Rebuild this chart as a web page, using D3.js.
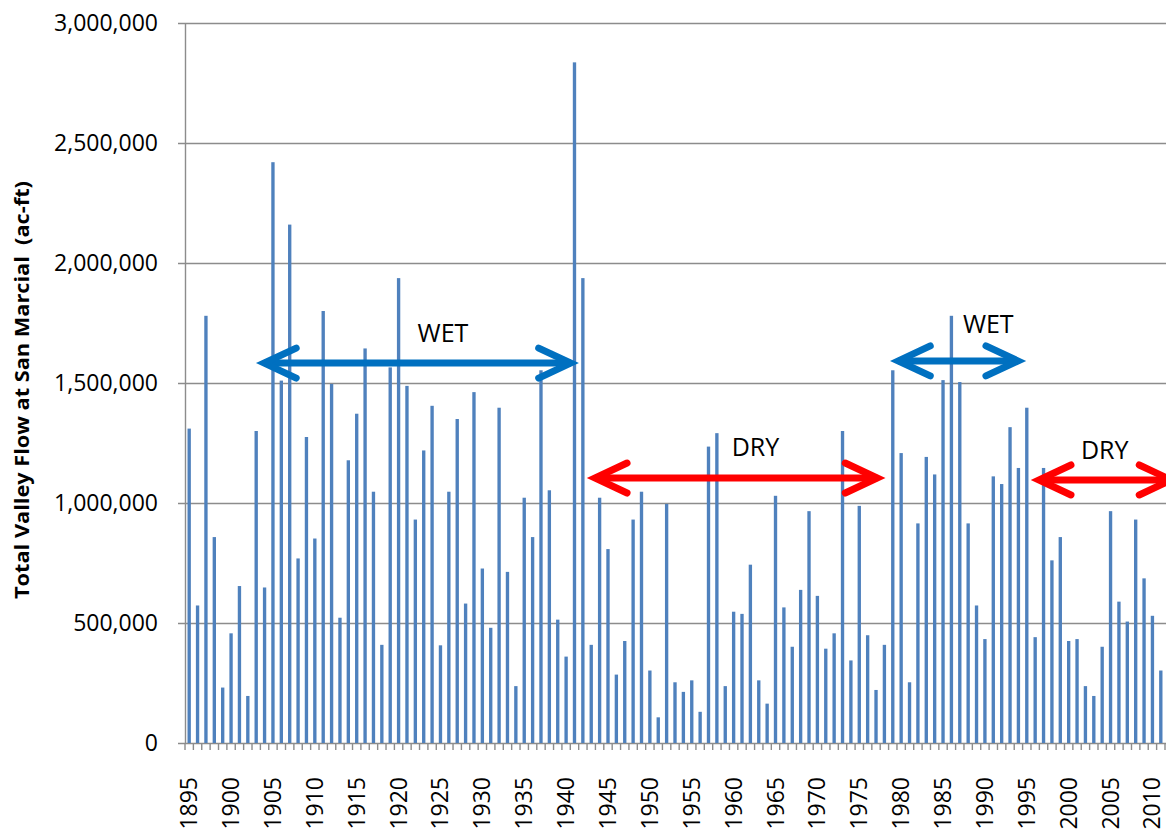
<!DOCTYPE html>
<html>
<head>
<meta charset="utf-8">
<script src="https://cdn.jsdelivr.net/npm/d3@7"></script>
<style>
  body { margin: 0; background: #fff; }
  svg { display: block; }
</style>
</head>
<body>
<div id="chart"></div>
<script>
// size of the picture
let w = 1166;
let h = 829;
let margin = {top: 23, right: 1, bottom: 86, left: 185};

// years and total valley flow (ac-ft)
let years = d3.range(1895, 2012);
let flows = [
  1310000, 573000, 1780000, 858000, 231000, 457000, 654000, 196000, 1300000, 648000,
  2420000, 1510000, 2160000, 769000, 1275000, 852000, 1800000, 1496000, 522000, 1178000,
  1372000, 1644000, 1047000, 409000, 1565000, 1937000, 1488000, 931000, 1219000, 1405000,
  407000, 1047000, 1350000, 581000, 1462000, 727000, 480000, 1397000, 713000, 237000,
  1022000, 858000, 1553000, 1053000, 514000, 360000, 2836000, 1937000, 409000, 1022000,
  808000, 285000, 425000, 931000, 1047000, 302000, 107000, 996000, 253000, 213000,
  261000, 130000, 1235000, 1291000, 237000, 547000, 538000, 743000, 261000, 164000,
  1030000, 565000, 401000, 638000, 966000, 613000, 393000, 457000, 1300000, 344000,
  988000, 449000, 221000, 409000, 1553000, 1208000, 253000, 915000, 1192000, 1119000,
  1512000, 1780000, 1504000, 915000, 573000, 433000, 1111000, 1079000, 1316000, 1146000,
  1397000, 441000, 1146000, 761000, 858000, 425000, 433000, 237000, 196000, 401000,
  966000, 589000, 506000, 931000, 686000, 530000, 302000
];
let yTicks = [0, 500000, 1000000, 1500000, 2000000, 2500000, 3000000];
let xLabelYears = d3.range(1895, 2011, 5);

// wet / dry period arrows (start year, end year, flow level)
let periodNames = ["WET", "DRY", "WET", "DRY"];
let periodStart = [1903.0, 1942.5, 1978.7, 1995.5];
let periodEnd = [1941.5, 1978.1, 1994.9, 2013.2];
let periodLevel = [1583000, 1104000, 1592000, 1096000];
let periodLabelYear = [1925.3, 1962.6, 1990.4, 2004.3];
let periodLabelLevel = [1671000, 1196000, 1708000, 1183000];

let barColor = "#4f81bd";
let gridColor = "#8c8c8c";
let periodColors = {WET: "#0070c0", DRY: "#ff0000"};

let svg = d3.select("#chart")
            .append("svg")
            .attr("width", w)
            .attr("height", h);

let x = d3.scaleBand()
          .domain(years)
          .range([margin.left, w - margin.right])
          .paddingInner(0.6)
          .paddingOuter(0.3);

// continuous version of the year axis, for the annotations
let xYear = d3.scaleLinear()
              .domain([years[0], years[years.length - 1]])
              .range([x(years[0]) + x.bandwidth() / 2, x(years[years.length - 1]) + x.bandwidth() / 2]);

let y = d3.scaleLinear()
          .domain([0, 3000000])
          .range([h - margin.bottom, margin.top]);

let fmt = d3.format(",");

// gridlines
svg.append("g")
   .selectAll("line")
   .data(yTicks)
   .enter()
   .append("line")
   .attr("x1", margin.left - 7)
   .attr("x2", w)
   .attr("y1", d => Math.round(y(d)) + 0.5)
   .attr("y2", d => Math.round(y(d)) + 0.5)
   .style("stroke", gridColor)
   .style("stroke-width", 1.4);

// bars
svg.append("g")
   .selectAll("rect")
   .data(years)
   .enter()
   .append("rect")
   .attr("x", d => x(d))
   .attr("width", x.bandwidth())
   .attr("y", (d, i) => y(flows[i]))
   .attr("height", (d, i) => y(0) - y(flows[i]))
   .style("fill", barColor);

// y axis line
svg.append("line")
   .attr("x1", margin.left + 0.5)
   .attr("x2", margin.left + 0.5)
   .attr("y1", y(3000000))
   .attr("y2", y(0))
   .style("stroke", gridColor)
   .style("stroke-width", 1.4);

// x axis tick marks between the years
let xTickPos = years.map(d => x(d) - x.step() * x.paddingInner() / 2);
xTickPos.push(x(years[years.length - 1]) + x.bandwidth() + x.step() * x.paddingInner() / 2);
svg.append("g")
   .selectAll("line")
   .data(xTickPos)
   .enter()
   .append("line")
   .attr("x1", d => d)
   .attr("x2", d => d)
   .attr("y1", y(0))
   .attr("y2", y(0) + 7)
   .style("stroke", gridColor)
   .style("stroke-width", 1.4);

// y tick labels
svg.append("g")
   .selectAll("text")
   .data(yTicks)
   .enter()
   .append("text")
   .attr("x", margin.left - 27)
   .attr("y", d => y(d))
   .attr("dy", "0.36em")
   .attr("text-anchor", "end")
   .style("font", "23px 'Open Sans', sans-serif")
   .style("fill", "#000")
   .text(d => fmt(d));

// x tick labels, rotated
svg.append("g")
   .selectAll("text")
   .data(xLabelYears)
   .enter()
   .append("text")
   .attr("transform", d => "translate(" + (x(d) + x.bandwidth() / 2 + 8) + "," + (y(0) + 34) + ") rotate(-90)")
   .attr("text-anchor", "end")
   .style("font", "23px 'Open Sans', sans-serif")
   .style("fill", "#000")
   .text(d => d);

// y axis title
svg.append("text")
   .attr("transform", "translate(29," + ((y(0) + y(3000000)) / 2 + 7) + ") rotate(-90)")
   .attr("text-anchor", "middle")
   .attr("textLength", 418)
   .attr("lengthAdjust", "spacingAndGlyphs")
   .style("font", "bold 20px 'Open Sans', sans-serif")
   .style("white-space", "pre")
   .text("Total Valley Flow at San Marcial  (ac-ft)");

// period arrows
let headLen = 32;
let headHalf = 15;
let tipInset = 8;   // miter of the chevron sticks out past its vertex
periodNames.forEach(function(name, i) {
    let x1 = xYear(periodStart[i]) + tipInset;
    let x2 = xYear(periodEnd[i]) - tipInset;
    let yy = y(periodLevel[i]);
    let g = svg.append("g")
               .style("stroke", periodColors[name])
               .style("stroke-width", 7)
               .style("fill", "none")
               .style("stroke-linecap", "round")
               .style("stroke-linejoin", "miter");
    g.append("line")
     .attr("x1", x1).attr("x2", x2)
     .attr("y1", yy).attr("y2", yy)
     .style("stroke-linecap", "butt");
    g.append("path")
     .attr("d", "M" + (x1 + headLen) + "," + (yy - headHalf) + "L" + x1 + "," + yy + "L" + (x1 + headLen) + "," + (yy + headHalf));
    g.append("path")
     .attr("d", "M" + (x2 - headLen) + "," + (yy - headHalf) + "L" + x2 + "," + yy + "L" + (x2 - headLen) + "," + (yy + headHalf));

    svg.append("text")
       .attr("x", xYear(periodLabelYear[i]))
       .attr("y", y(periodLabelLevel[i]))
       .attr("text-anchor", "middle")
       .style("font", "25px 'Open Sans', sans-serif")
       .style("fill", "#000")
       .text(name);
});
</script>
</body>
</html>
